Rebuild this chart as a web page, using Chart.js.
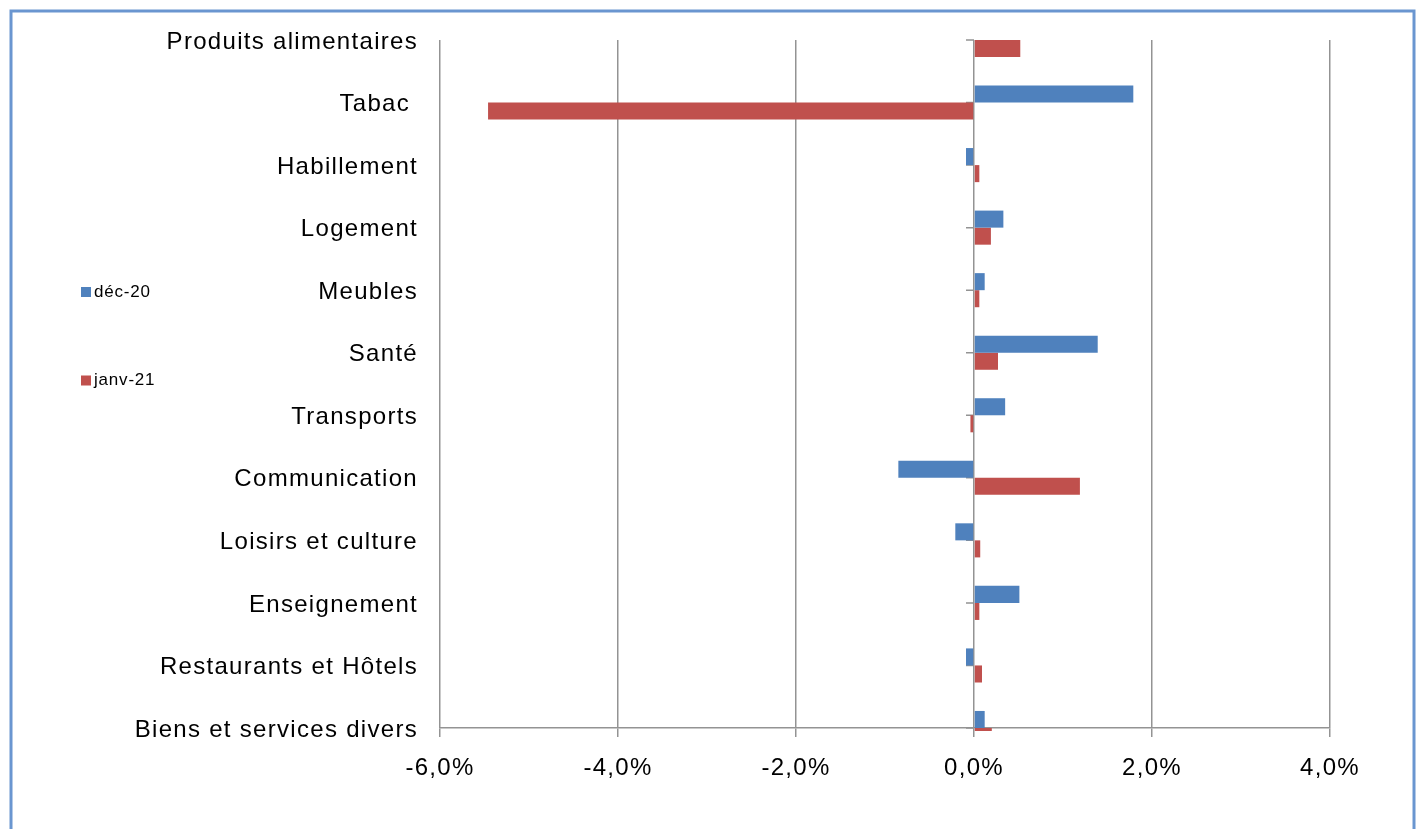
<!DOCTYPE html>
<html>
<head>
<meta charset="utf-8">
<script src="https://cdn.jsdelivr.net/npm/chart.js"></script>
<style>
  html, body { margin: 0; padding: 0; background: #ffffff; }
  canvas { display: block; }
</style>
</head>
<body>
<canvas id="c" width="1421" height="829"></canvas>
<script>
// ---- Data ----
const categories = [
  "Produits alimentaires", "Tabac ", "Habillement", "Logement", "Meubles", "Santé",
  "Transports", "Communication", "Loisirs et culture", "Enseignement",
  "Restaurants et Hôtels", "Biens et services divers"
];
const seriesNames = ["déc-20", "janv-21"];
const dec20  = [0.00, 1.79, -0.09, 0.33, 0.12, 1.39, 0.35, -0.85, -0.21, 0.51, -0.09, 0.12];
const janv21 = [0.52, -5.46, 0.06, 0.19, 0.06, 0.27, -0.04, 1.19, 0.07, 0.06, 0.09, 0.20];
const xTickValues = [-6, -4, -2, 0, 2, 4];

// ---- Styles ----
const BLUE = '#4f81bd';
const RED = '#c0504d';
const GRID = '#939393';
const FONT = "'Liberation Sans', Arial, sans-serif";
const LS = '1.3px';

Chart.defaults.font.family = FONT;
Chart.defaults.color = '#000';

const CH_LEFT = 440, CH_TOP = 40, CH_RIGHT_PAD = 91, CH_BOTTOM = 728, H = 829;

const spacingPlugin = {
  id: 'spacing',
  beforeUpdate(c) { c.ctx.letterSpacing = LS; },
  beforeLayout(c) { c.ctx.letterSpacing = LS; },
  beforeDraw(c) {
    const ctx = c.ctx;
    ctx.save();
    ctx.letterSpacing = '0px';
    ctx.fillStyle = '#ffffff';
    ctx.fillRect(0, 0, c.width, c.height);
    ctx.restore();
    ctx.letterSpacing = LS;
  }
};

const zeroTicksPlugin = {
  id: 'zeroTicks',
  beforeDatasetsDraw(c) {
    const ctx = c.ctx, x = c.scales.x, y = c.scales.y;
    const x0 = x.getPixelForValue(0);
    ctx.save();
    ctx.strokeStyle = GRID;
    ctx.lineWidth = 1.5;
    ctx.beginPath();
    for (let i = 0; i < y.ticks.length; i++) {
      const py = y.getPixelForTick(i);
      ctx.moveTo(x0 - 8, py);
      ctx.lineTo(x0, py);
    }
    ctx.stroke();
    ctx.restore();
  }
};

const legendFramePlugin = {
  id: 'legendFrame',
  afterDraw(c, args, opts) {
    const ctx = c.ctx;
    ctx.save();
    ctx.letterSpacing = '0.8px';
    ctx.font = "17px " + FONT;
    ctx.textBaseline = 'middle';
    ctx.textAlign = 'left';
    c.data.datasets.forEach((ds, i) => {
      const yy = opts.ys[i];
      ctx.fillStyle = ds.backgroundColor;
      ctx.fillRect(opts.x, yy - 5, 10, 10);
      ctx.fillStyle = '#000';
      ctx.fillText(ds.label, opts.x + 13, yy);
    });
    // outer frame
    ctx.letterSpacing = '0px';
    ctx.strokeStyle = '#6a96d0';
    ctx.lineWidth = 3;
    ctx.strokeRect(11, 11, 1403, 900);
    ctx.restore();
  }
};

new Chart(document.getElementById('c'), {
  type: 'bar',
  data: {
    labels: categories,
    datasets: [
      { label: seriesNames[0], data: dec20, backgroundColor: BLUE,
        clip: { left: false, right: false, top: 0, bottom: 3 } },
      { label: seriesNames[1], data: janv21, backgroundColor: RED,
        clip: { left: false, right: false, top: 0, bottom: 3 } }
    ]
  },
  options: {
    indexAxis: 'y',
    responsive: false,
    animation: false,
    devicePixelRatio: 1,
    categoryPercentage: 0.545,
    barPercentage: 1.0,
    layout: { padding: { left: 0, top: CH_TOP, right: CH_RIGHT_PAD, bottom: 0 } },
    plugins: {
      legend: { display: false },
      tooltip: { enabled: false },
      legendFrame: { x: 81, ys: [292, 380.5] }
    },
    scales: {
      x: {
        min: -6, max: 4,
        afterBuildTicks(s) { s.ticks = xTickValues.map(v => ({ value: v })); },
        afterFit(s) { s.height = H - CH_BOTTOM; },
        grid: { color: GRID, lineWidth: 1.5, drawTicks: true, tickLength: 9 },
        border: { display: true, color: GRID, width: 1.5 },
        ticks: {
          font: { size: 24 },
          color: '#000',
          padding: 17,
          callback: (v) => (Math.abs(v) < 1e-9 ? 0 : v).toFixed(1).replace('.', ',') + '%'
        }
      },
      y: {
        type: 'category',
        offset: false,
        afterFit(s) { s.width = CH_LEFT; },
        grid: { display: false, drawTicks: false },
        border: { display: false },
        ticks: { font: { size: 24 }, color: '#000', padding: 22, autoSkip: false, labelOffset: 2 }
      }
    }
  },
  plugins: [spacingPlugin, zeroTicksPlugin, legendFramePlugin]
});
</script>
</body>
</html>
